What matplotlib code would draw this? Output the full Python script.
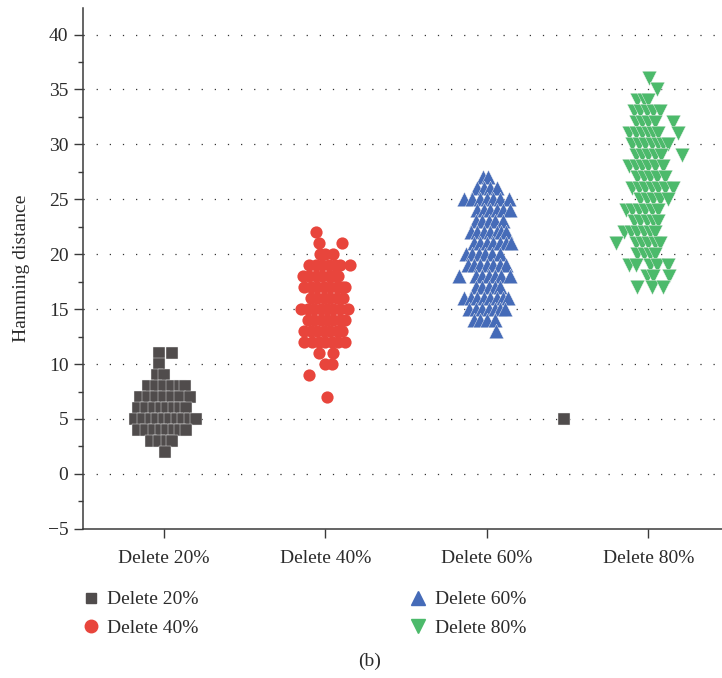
import numpy as np
import matplotlib
matplotlib.use("Agg")
import matplotlib.pyplot as plt
from matplotlib.lines import Line2D

# ------------------------------------------------------------
# data: hamming distance -> horizontal jitter (category units)
# ------------------------------------------------------------
categories = ["Delete 20%", "Delete 40%", "Delete 60%", "Delete 80%"]

rows_20 = {
    11: [-0.03, 0.05],
    10: [-0.03],
    9:  [-0.04, 0.0],
    8:  [-0.1, -0.05, 0.0, 0.05, 0.1, 0.13],
    7:  [-0.15, -0.1, -0.05, 0.0, 0.05, 0.1, 0.16],
    6:  [-0.16, -0.11, -0.06, -0.02, 0.02, 0.06, 0.1, 0.14],
    5:  [-0.18, -0.13, -0.08, -0.04, 0.0, 0.04, 0.08, 0.12, 0.16, 0.2],
    4:  [-0.16, -0.11, -0.06, -0.02, 0.02, 0.06, 0.1, 0.14],
    3:  [-0.08, -0.03, 0.02, 0.05],
    2:  [0.01],
}
# stray point of the 20% series, drawn between 60% and 80%
outlier_x = 3.475
outlier_y = 5

rows_40 = {
    22: [-0.055],
    21: [-0.04, 0.1],
    20: [-0.035, 0.0, 0.05],
    19: [-0.1, -0.06, -0.02, 0.02, 0.06, 0.09, 0.15],
    18: [-0.14, -0.1, -0.06, -0.02, 0.02, 0.05, 0.08],
    17: [-0.13, -0.09, -0.05, -0.01, 0.03, 0.07, 0.1, 0.12],
    16: [-0.09, -0.05, -0.01, 0.03, 0.07, 0.11],
    15: [-0.15, -0.11, -0.07, -0.03, 0.01, 0.05, 0.09, 0.14],
    14: [-0.11, -0.07, -0.03, 0.01, 0.05, 0.09, 0.12],
    13: [-0.13, -0.09, -0.05, -0.01, 0.03, 0.07, 0.1],
    12: [-0.13, -0.08, -0.04, 0.0, 0.04, 0.08, 0.12],
    11: [-0.04, 0.05],
    10: [0.0, 0.04],
    9:  [-0.1],
    7:  [0.01],
}

rows_60 = {
    27: [-0.025, 0.005],
    26: [-0.06, -0.02, 0.02, 0.06],
    25: [-0.14, -0.09, -0.04, 0.0, 0.04, 0.08, 0.135],
    24: [-0.06, -0.02, 0.02, 0.06, 0.1, 0.14],
    23: [-0.07, -0.03, 0.01, 0.05, 0.1],
    22: [-0.1, -0.06, -0.02, 0.02, 0.06, 0.09, 0.12],
    21: [-0.08, -0.04, 0.0, 0.04, 0.08, 0.12, 0.15],
    20: [-0.13, -0.09, -0.05, -0.01, 0.03, 0.08],
    19: [-0.12, -0.08, -0.04, 0.0, 0.04, 0.08, 0.12],
    18: [-0.17, -0.07, -0.03, 0.01, 0.05, 0.09, 0.14],
    17: [-0.07, -0.03, 0.01, 0.05, 0.08],
    16: [-0.14, -0.1, -0.06, -0.02, 0.02, 0.06, 0.1, 0.13],
    15: [-0.11, -0.07, -0.03, 0.01, 0.05, 0.08, 0.11],
    14: [-0.08, -0.04, 0.0, 0.05],
    13: [0.055],
}

rows_80 = {
    36: [0.005],
    35: [0.05],
    34: [-0.07, -0.03, 0.0],
    33: [-0.09, -0.05, -0.01, 0.03, 0.07],
    32: [-0.08, -0.04, 0.0, 0.04, 0.15],
    31: [-0.12, -0.08, -0.04, 0.0, 0.03, 0.06, 0.18],
    30: [-0.1, -0.06, -0.02, 0.02, 0.06, 0.09, 0.12],
    29: [-0.08, -0.04, 0.0, 0.04, 0.08, 0.21],
    28: [-0.12, -0.08, -0.04, 0.0, 0.04, 0.09],
    27: [-0.07, -0.03, 0.01, 0.05, 0.1],
    26: [-0.1, -0.06, -0.02, 0.02, 0.06, 0.1, 0.15],
    25: [-0.05, -0.01, 0.03, 0.07, 0.12],
    24: [-0.14, -0.1, -0.06, -0.02, 0.02, 0.06],
    23: [-0.09, -0.05, -0.01, 0.03, 0.06],
    22: [-0.15, -0.11, -0.07, -0.03, 0.01, 0.04],
    21: [-0.2, -0.08, -0.04, 0.0, 0.04, 0.07],
    20: [-0.07, -0.03, 0.01, 0.04],
    19: [-0.12, -0.08, 0.01, 0.05, 0.12],
    18: [-0.01, 0.03, 0.13],
    17: [-0.07, 0.02, 0.09],
}

colors = ["#504c4c", "#e8453c", "#456bb8", "#4cba6b"]
markers = ["s", "o", "^", "v"]
msizes = [8, 8.8, 10.5, 10.5]
edge_w = [0.3, 0.0, 0.3, 0.3]


def expand(rows, center):
    xs, ys = [], []
    for val, offs in rows.items():
        for o in offs:
            xs.append(center + o)
            ys.append(val)
    return np.array(xs), np.array(ys)


plt.rcParams['font.family'] = ['Liberation Serif', 'DejaVu Serif']
txt_col = "#2b2b2b"

fig = plt.figure(figsize=(7.22, 6.78), dpi=100)
ax = fig.add_axes([0.115, 0.22, 0.885, 0.768])

all_rows = [rows_20, rows_40, rows_60, rows_80]
for i, rows in enumerate(all_rows):
    xs, ys = expand(rows, i + 1)
    ax.scatter(xs, ys, marker=markers[i], s=msizes[i] ** 2, c=colors[i],
               edgecolors="#f2f2f2", linewidths=edge_w[i], zorder=3)
ax.scatter([outlier_x], [outlier_y], marker="s", s=msizes[0] ** 2, c=colors[0],
           edgecolors="#f2f2f2", linewidths=0.3, zorder=3)

ax.set_xlim(0.5, 4.455)
ax.set_ylim(-5, 42.4)
ax.set_xticks(range(1, 5))
ax.set_xticklabels(categories)
ax.set_yticks(np.arange(-5, 41, 5))
ax.set_yticklabels(["\u22125" if v < 0 else str(v) for v in range(-5, 41, 5)])
ax.set_yticks(np.arange(-2.5, 41, 5), minor=True)

for v in range(0, 41, 5):
    ax.axhline(v, color="#333333", lw=0.9, ls=(0, (1, 9.5)), zorder=1)

for s in ["top", "right"]:
    ax.spines[s].set_visible(False)
for s in ["left", "bottom"]:
    ax.spines[s].set_color("#3a3a3a")
    ax.spines[s].set_linewidth(1.1)

ax.tick_params(axis="both", which="major", length=6.5, width=1.0,
               color="#3a3a3a", labelsize=14, labelcolor=txt_col, pad=4)
ax.tick_params(axis="y", which="minor", length=3.5, width=1.0, color="#3a3a3a")
ax.tick_params(axis="x", pad=9)
ax.set_ylabel("Hamming distance", fontsize=14, color=txt_col, labelpad=13)

handles = [
    Line2D([], [], ls="none", marker="s", ms=7, color=colors[0]),
    Line2D([], [], ls="none", marker="o", ms=9, color=colors[1]),
    Line2D([], [], ls="none", marker="^", ms=10, color=colors[2]),
    Line2D([], [], ls="none", marker="v", ms=10, color=colors[3]),
]
fig.legend(handles, categories, ncol=2, loc="upper left",
           bbox_to_anchor=(0.104, 0.14), frameon=False, fontsize=14,
           handlelength=0.8, handletextpad=0.45, columnspacing=10.9,
           labelspacing=0.55, borderaxespad=0, labelcolor=txt_col)

fig.text(0.512, 0.025, "(b)", ha="center", va="center", fontsize=14, color=txt_col)

fig.savefig("out.png", dpi=100)
